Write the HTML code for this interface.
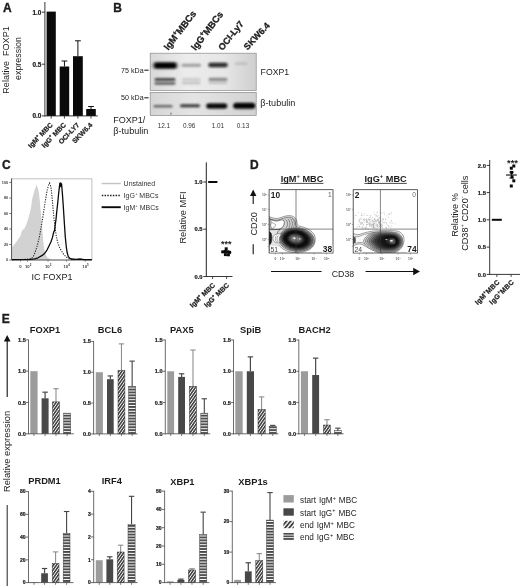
<!DOCTYPE html>
<html lang="en"><head><meta charset="utf-8"><title>Figure</title>
<style>html,body{margin:0;padding:0;background:#fff}body{width:520px;height:586px;overflow:hidden}svg{display:block;font-family:"Liberation Sans",Arial,sans-serif}</style></head>
<body>
<svg width="520" height="586" viewBox="0 0 520 586">
<rect width="520" height="586" fill="#fff"/>
<defs>
<pattern id="hd" width="2.4" height="2.4" patternUnits="userSpaceOnUse" patternTransform="rotate(-55)">
<rect width="2.4" height="2.4" fill="#fff"/><rect width="2.4" height="1.5" fill="#3a3a3a"/></pattern>
<pattern id="hh" width="2.9" height="2.9" patternUnits="userSpaceOnUse">
<rect width="2.9" height="2.9" fill="#fff"/><rect width="2.9" height="1.85" fill="#464646"/></pattern>
<pattern id="hd2" width="3.2" height="3.2" patternUnits="userSpaceOnUse" patternTransform="rotate(-50)">
<rect width="3.2" height="3.2" fill="#fff"/><rect width="3.2" height="1.8" fill="#3c3c3c"/></pattern>
<pattern id="hh2" width="2.6" height="2.6" patternUnits="userSpaceOnUse" patternTransform="translate(0 532.9)">
<rect width="2.6" height="2.6" fill="#fff"/><rect width="2.6" height="1.7" fill="#4a4a4a"/></pattern>
<filter id="b1" x="-20%" y="-100%" width="140%" height="300%"><feGaussianBlur stdDeviation="1.1 0.9"/></filter>
<filter id="b2" x="-20%" y="-100%" width="140%" height="300%"><feGaussianBlur stdDeviation="1.6 1.2"/></filter>
<filter id="b3" x="-30%" y="-30%" width="160%" height="160%"><feGaussianBlur stdDeviation="0.7"/></filter>
<filter id="b4" x="-30%" y="-30%" width="160%" height="160%"><feGaussianBlur stdDeviation="0.35"/></filter>
<clipPath id="cb1"><rect x="150.2" y="53.2" width="106" height="37.4"/></clipPath>
<clipPath id="cb2"><rect x="150.2" y="92.4" width="106" height="23"/></clipPath>
<clipPath id="cd1"><rect x="269.1" y="189.7" width="63.9" height="63.3"/></clipPath>
<clipPath id="cd2"><rect x="353.2" y="189.7" width="64.2" height="63.3"/></clipPath>
</defs>
<text x="3.1" y="11.9" font-size="12" font-weight="700" text-anchor="start" fill="#1c1c1c" stroke="#1c1c1c" stroke-width="0.35">A</text>
<text x="9.4" y="60" font-size="9.05" text-anchor="middle" fill="#1c1c1c" transform="rotate(-90 9.4 60)">Relative  FOXP1</text>
<text x="21.2" y="58.5" font-size="8.9" text-anchor="middle" fill="#1c1c1c" transform="rotate(-90 21.2 58.5)">expression</text>
<line x1="44.9" y1="2" x2="44.9" y2="116.2" stroke="#222" stroke-width="0.9"/>
<line x1="44.5" y1="115.9" x2="97.8" y2="115.9" stroke="#222" stroke-width="0.9"/>
<line x1="41.9" y1="12.2" x2="44.9" y2="12.2" stroke="#222" stroke-width="0.9"/>
<text x="41.3" y="14.5" font-size="6.4" font-weight="700" text-anchor="end" fill="#1c1c1c" stroke="#1c1c1c" stroke-width="0.22">1.0</text>
<line x1="41.9" y1="64.2" x2="44.9" y2="64.2" stroke="#222" stroke-width="0.9"/>
<text x="41.3" y="66.5" font-size="6.4" font-weight="700" text-anchor="end" fill="#1c1c1c" stroke="#1c1c1c" stroke-width="0.22">0.5</text>
<line x1="41.9" y1="115.9" x2="44.9" y2="115.9" stroke="#222" stroke-width="0.9"/>
<text x="41.3" y="118.2" font-size="6.4" font-weight="700" text-anchor="end" fill="#1c1c1c" stroke="#1c1c1c" stroke-width="0.22">0.0</text>
<rect x="46.60" y="11.60" width="9.20" height="104.30" fill="#0a0a0a"/>
<line x1="51.2" y1="115.9" x2="51.2" y2="118.6" stroke="#222" stroke-width="0.8"/>
<rect x="59.70" y="66.50" width="9.50" height="49.40" fill="#0a0a0a"/>
<line x1="64.45" y1="115.9" x2="64.45" y2="118.6" stroke="#222" stroke-width="0.8"/>
<line x1="64.45" y1="66.5" x2="64.45" y2="61" stroke="#111" stroke-width="1.0"/>
<line x1="61.55" y1="61" x2="67.35" y2="61" stroke="#111" stroke-width="1.0"/>
<rect x="73.00" y="56.20" width="9.80" height="59.70" fill="#0a0a0a"/>
<line x1="77.9" y1="115.9" x2="77.9" y2="118.6" stroke="#222" stroke-width="0.8"/>
<line x1="77.9" y1="56.2" x2="77.9" y2="40.8" stroke="#111" stroke-width="1.0"/>
<line x1="75.0" y1="40.8" x2="80.8" y2="40.8" stroke="#111" stroke-width="1.0"/>
<rect x="86.20" y="109.00" width="9.60" height="6.90" fill="#0a0a0a"/>
<line x1="91.0" y1="115.9" x2="91.0" y2="118.6" stroke="#222" stroke-width="0.8"/>
<line x1="91.0" y1="109" x2="91.0" y2="106.5" stroke="#111" stroke-width="1.0"/>
<line x1="88.1" y1="106.5" x2="93.9" y2="106.5" stroke="#111" stroke-width="1.0"/>
<text x="53.2" y="125.4" font-size="6.9" font-weight="700" text-anchor="end" fill="#1c1c1c" transform="rotate(-46 53.2 125.4)" stroke="#1c1c1c" stroke-width="0.22">IgM<tspan dy="-0.677em" font-size="62%">+</tspan><tspan dy="0.420em"> MBC</tspan></text>
<text x="66.4" y="125.4" font-size="6.9" font-weight="700" text-anchor="end" fill="#1c1c1c" transform="rotate(-46 66.4 125.4)" stroke="#1c1c1c" stroke-width="0.22">IgG<tspan dy="-0.677em" font-size="62%">+</tspan><tspan dy="0.420em"> MBC</tspan></text>
<text x="79.9" y="125.4" font-size="6.9" font-weight="700" text-anchor="end" fill="#1c1c1c" transform="rotate(-46 79.9 125.4)" stroke="#1c1c1c" stroke-width="0.22">OCI-LY7</text>
<text x="92.9" y="125.4" font-size="6.9" font-weight="700" text-anchor="end" fill="#1c1c1c" transform="rotate(-46 92.9 125.4)" stroke="#1c1c1c" stroke-width="0.22">SKW6.4</text>
<text x="113.2" y="11.9" font-size="12" font-weight="700" text-anchor="start" fill="#1c1c1c" stroke="#1c1c1c" stroke-width="0.35">B</text>
<text x="168.3" y="50.8" font-size="9.4" font-weight="700" text-anchor="start" fill="#1c1c1c" transform="rotate(-52.5 168.3 50.8)" stroke="#1c1c1c" stroke-width="0.3">IgM<tspan dy="-0.543em" font-size="70%">+</tspan><tspan dy="0.380em">MBCs</tspan></text>
<text x="195.6" y="51.1" font-size="9.4" font-weight="700" text-anchor="start" fill="#1c1c1c" transform="rotate(-52.5 195.6 51.1)" stroke="#1c1c1c" stroke-width="0.3">IgG<tspan dy="-0.543em" font-size="70%">+</tspan><tspan dy="0.380em">MBCs</tspan></text>
<text x="222.5" y="50.9" font-size="9.1" font-weight="700" text-anchor="start" fill="#1c1c1c" transform="rotate(-51 222.5 50.9)" stroke="#1c1c1c" stroke-width="0.3">OCI-Ly7</text>
<text x="247.6" y="50.5" font-size="9.0" font-weight="700" text-anchor="start" fill="#1c1c1c" transform="rotate(-47 247.6 50.5)" stroke="#1c1c1c" stroke-width="0.3">SKW6.4</text>
<linearGradient id="gb1" x1="0" x2="1" y1="0" y2="0"><stop offset="0" stop-color="#d9d9d9"/><stop offset="0.35" stop-color="#ececec"/><stop offset="0.7" stop-color="#e6e6e6"/><stop offset="1" stop-color="#cfcfcf"/></linearGradient>
<linearGradient id="gb2" x1="0" x2="1" y1="0" y2="0"><stop offset="0" stop-color="#d6d6d6"/><stop offset="0.4" stop-color="#e4e4e4"/><stop offset="1" stop-color="#d2d2d2"/></linearGradient>
<rect x="150.20" y="53.20" width="106.00" height="37.40" fill="url(#gb1)" stroke="#8a8a8a" stroke-width="0.7"/>
<rect x="150.20" y="92.40" width="106.00" height="23.00" fill="url(#gb2)" stroke="#8a8a8a" stroke-width="0.7"/>
<g clip-path="url(#cb1)">
<rect x="152.5" y="61.65" width="25.50" height="7.5" rx="3.75" fill="#000" opacity="0.5" filter="url(#b2)"/>
<rect x="154.5" y="62.90" width="21.50" height="5.0" rx="2.50" fill="#000" opacity="1" filter="url(#b1)"/>
<rect x="154.5" y="78.10" width="21.00" height="3.0" rx="1.50" fill="#222" opacity="0.78" filter="url(#b1)"/>
<rect x="154.5" y="81.90" width="21.00" height="2.8" rx="1.40" fill="#222" opacity="0.66" filter="url(#b1)"/>
<rect x="181.5" y="63.80" width="19.50" height="3.0" rx="1.50" fill="#333" opacity="0.42" filter="url(#b1)"/>
<rect x="182" y="78.20" width="18.50" height="2.4" rx="1.20" fill="#333" opacity="0.2" filter="url(#b1)"/>
<rect x="182" y="81.80" width="18.50" height="2.4" rx="1.20" fill="#333" opacity="0.22" filter="url(#b1)"/>
<rect x="208.5" y="63.10" width="19.00" height="3.8" rx="1.90" fill="#111" opacity="0.8" filter="url(#b1)"/>
<rect x="208" y="62.00" width="20.00" height="6.0" rx="3.00" fill="#111" opacity="0.22" filter="url(#b2)"/>
<rect x="208.5" y="77.80" width="19.00" height="3.2" rx="1.60" fill="#333" opacity="0.5" filter="url(#b1)"/>
<rect x="208.5" y="81.70" width="18.50" height="2.2" rx="1.10" fill="#333" opacity="0.22" filter="url(#b1)"/>
<rect x="234.5" y="62.30" width="13.00" height="2.6" rx="1.30" fill="#555" opacity="0.2" filter="url(#b1)"/>
</g>
<g clip-path="url(#cb2)">
<rect x="153.5" y="105.00" width="19.00" height="2.4" rx="1.20" fill="#222" opacity="0.62" filter="url(#b1)"/>
<rect x="180" y="104.30" width="20.00" height="3.0" rx="1.50" fill="#111" opacity="0.8" filter="url(#b1)"/>
<rect x="206.5" y="103.80" width="20.50" height="4.4" rx="2.20" fill="#000" opacity="0.95" filter="url(#b1)"/>
<rect x="206" y="102.75" width="21.50" height="6.5" rx="3.25" fill="#000" opacity="0.3" filter="url(#b2)"/>
<rect x="233.5" y="103.30" width="21.50" height="5.0" rx="2.50" fill="#000" opacity="1" filter="url(#b1)"/>
<rect x="233" y="102.20" width="22.50" height="7.2" rx="3.60" fill="#000" opacity="0.35" filter="url(#b2)"/>
</g>
<line x1="171" y1="112.6" x2="171" y2="114.6" stroke="#333" stroke-width="0.7"/>
<text x="143.6" y="72.5" font-size="7.1" text-anchor="end" fill="#222">75 kDa</text>
<line x1="144.3" y1="70.2" x2="148.6" y2="70.2" stroke="#222" stroke-width="1.1"/>
<text x="143.6" y="100.3" font-size="7.1" text-anchor="end" fill="#222">50 kDa</text>
<line x1="144.3" y1="97.8" x2="148.6" y2="97.8" stroke="#222" stroke-width="1.1"/>
<text x="260.6" y="75" font-size="8.7" text-anchor="start" fill="#1c1c1c">FOXP1</text>
<text x="260.3" y="106.2" font-size="9.1" text-anchor="start" fill="#1c1c1c">β-tubulin</text>
<text x="113.3" y="123.2" font-size="9.0" text-anchor="start" fill="#1c1c1c">FOXP1/</text>
<text x="113.3" y="134" font-size="9.1" text-anchor="start" fill="#1c1c1c">β-tubulin</text>
<text x="163.9" y="128" font-size="6.4" text-anchor="middle" fill="#333">12.1</text>
<text x="189.2" y="128" font-size="6.4" text-anchor="middle" fill="#333">0.96</text>
<text x="217.9" y="128" font-size="6.4" text-anchor="middle" fill="#333">1.01</text>
<text x="243.0" y="128" font-size="6.4" text-anchor="middle" fill="#333">0.13</text>
<text x="2.0" y="169.1" font-size="12" font-weight="700" text-anchor="start" fill="#1c1c1c" stroke="#1c1c1c" stroke-width="0.35">C</text>
<path d="M12.2,260 L12.2,247 L13.5,245.5 L15,243.5 L17,241 L19.2,237.5 L20.5,236 L21.5,231.5 L23,229.8 L24.5,228.4 L26,225 L27.5,221 L28.8,216.5 L30,212.5 L31.2,206 L32.4,198 L33.4,194.5 L34.4,190.5 L35.4,188 L36.6,184.2 L37.4,187.5 L38.2,189 L38.9,193 L39.7,200 L40.5,209 L41.4,218 L42.4,231 L43.4,243 L44.4,250 L45.6,254.4 L47.2,257.2 L49.2,258.8 L52,260 Z" fill="#d2d2d2"/>
<path d="M11.6,178.8 H91.9 V260.0" fill="none" stroke="#b0b0b0" stroke-width="0.8"/>
<path d="M11.6,178.4 V260.0 H91.9" fill="none" stroke="#3a3a3a" stroke-width="0.9"/>
<path d="M12,259.6 L26,259.4 L31.5,258.6 L33.7,255.8 L36.2,249 L37.8,243.5 L39.4,237 L41.4,226 L43.6,212 L45.2,202 L47.0,191 L48.2,186 L49.5,183.1 L50.4,185 L51.2,189 L52.2,198.8 L53.5,213 L55.0,227.7 L56.4,237 L57.9,243 L59.7,247.8 L61.7,251.2 L64,254.8 L67.3,257.8 L70,259.2 L74,259.7" fill="none" stroke="#222" stroke-width="1.1" stroke-dasharray="1.2 1.3"/>
<path d="M12,259.6 L30,259.4 L34.6,258.8 L38,257.8 L42.3,255.4 L45,253 L47.1,249.8 L49,246 L51,241.8 L52.5,237.4 L53.6,232.4 L54.6,230.4 L55.2,225 L56.0,219.5 L56.7,212.3 L57.7,203 L58.7,193 L59.4,187 L59.9,183.2 L60.3,186.5 L60.7,182.8 L61.1,186 L61.6,184 L62,189 L62.5,195 L63.4,208 L64.4,223.8 L65.3,237 L66.3,247 L67.2,252.8 L68.3,256.6 L70,258.4 L72.1,259 L76,259.4 L80,259 L84,259.6 L91.9,259.6" fill="none" stroke="#0a0a0a" stroke-width="1.3" stroke-linejoin="round"/>
<line x1="9.2" y1="182.5" x2="11.6" y2="182.5" stroke="#444" stroke-width="0.7"/>
<text x="8.2" y="183.85" font-size="3.8" font-weight="700" text-anchor="end" fill="#3a3a3a">100</text>
<line x1="9.2" y1="198.0" x2="11.6" y2="198.0" stroke="#444" stroke-width="0.7"/>
<text x="8.2" y="199.35" font-size="3.8" font-weight="700" text-anchor="end" fill="#3a3a3a">80</text>
<line x1="9.2" y1="213.5" x2="11.6" y2="213.5" stroke="#444" stroke-width="0.7"/>
<text x="8.2" y="214.85" font-size="3.8" font-weight="700" text-anchor="end" fill="#3a3a3a">60</text>
<line x1="9.2" y1="229.0" x2="11.6" y2="229.0" stroke="#444" stroke-width="0.7"/>
<text x="8.2" y="230.35" font-size="3.8" font-weight="700" text-anchor="end" fill="#3a3a3a">40</text>
<line x1="9.2" y1="244.5" x2="11.6" y2="244.5" stroke="#444" stroke-width="0.7"/>
<text x="8.2" y="245.85" font-size="3.8" font-weight="700" text-anchor="end" fill="#3a3a3a">20</text>
<line x1="9.2" y1="260.0" x2="11.6" y2="260.0" stroke="#444" stroke-width="0.7"/>
<text x="8.2" y="261.35" font-size="3.8" font-weight="700" text-anchor="end" fill="#3a3a3a">0</text>
<text x="20.3" y="267.7" font-size="4.2" font-weight="700" text-anchor="middle" fill="#3a3a3a">0</text>
<text x="28.2" y="267.7" font-size="4.2" font-weight="700" text-anchor="middle" fill="#3a3a3a">10<tspan dy="-0.643em" font-size="70%">2</tspan></text>
<text x="48.2" y="267.7" font-size="4.2" font-weight="700" text-anchor="middle" fill="#3a3a3a">10<tspan dy="-0.643em" font-size="70%">3</tspan></text>
<text x="66.7" y="267.7" font-size="4.2" font-weight="700" text-anchor="middle" fill="#3a3a3a">10<tspan dy="-0.643em" font-size="70%">4</tspan></text>
<text x="85.5" y="267.7" font-size="4.2" font-weight="700" text-anchor="middle" fill="#3a3a3a">10<tspan dy="-0.643em" font-size="70%">5</tspan></text>
<line x1="20.6" y1="260.0" x2="20.6" y2="261.8" stroke="#555" stroke-width="0.6"/>
<line x1="27.5" y1="260.0" x2="27.5" y2="261.8" stroke="#555" stroke-width="0.6"/>
<line x1="48" y1="260.0" x2="48" y2="261.8" stroke="#555" stroke-width="0.6"/>
<line x1="66.5" y1="260.0" x2="66.5" y2="261.8" stroke="#555" stroke-width="0.6"/>
<line x1="85.3" y1="260.0" x2="85.3" y2="261.8" stroke="#555" stroke-width="0.6"/>
<text x="52.0" y="280.2" font-size="9.0" text-anchor="middle" fill="#1c1c1c">IC FOXP1</text>
<line x1="101.6" y1="183.5" x2="120.8" y2="183.5" stroke="#c4c4c4" stroke-width="1.5"/>
<line x1="101.8" y1="195.6" x2="120.8" y2="195.6" stroke="#222" stroke-width="1.5" stroke-dasharray="1.5 1.25"/>
<line x1="101.6" y1="207.2" x2="120.8" y2="207.2" stroke="#0a0a0a" stroke-width="1.9"/>
<text x="123.6" y="186.0" font-size="7.0" text-anchor="start" fill="#333">Unstained</text>
<text x="123.6" y="197.9" font-size="7.0" text-anchor="start" fill="#333">IgG<tspan dy="-0.677em" font-size="62%">+</tspan><tspan dy="0.420em"> MBCs</tspan></text>
<text x="123.6" y="210.1" font-size="7.0" text-anchor="start" fill="#333">IgM<tspan dy="-0.677em" font-size="62%">+</tspan><tspan dy="0.420em"> MBCs</tspan></text>
<line x1="206.3" y1="162.4" x2="206.3" y2="276.8" stroke="#222" stroke-width="1.0"/>
<line x1="205.9" y1="276.5" x2="232.5" y2="276.5" stroke="#222" stroke-width="0.9"/>
<line x1="203.3" y1="182" x2="206.3" y2="182" stroke="#222" stroke-width="0.9"/>
<text x="202.5" y="184.1" font-size="5.8" font-weight="700" text-anchor="end" fill="#1c1c1c" stroke="#1c1c1c" stroke-width="0.22">1.0</text>
<line x1="203.3" y1="229.2" x2="206.3" y2="229.2" stroke="#222" stroke-width="0.9"/>
<text x="202.5" y="231.3" font-size="5.8" font-weight="700" text-anchor="end" fill="#1c1c1c" stroke="#1c1c1c" stroke-width="0.22">0.5</text>
<line x1="203.3" y1="276.5" x2="206.3" y2="276.5" stroke="#222" stroke-width="0.9"/>
<text x="202.5" y="278.6" font-size="5.8" font-weight="700" text-anchor="end" fill="#1c1c1c" stroke="#1c1c1c" stroke-width="0.22">0.0</text>
<line x1="212.6" y1="276.5" x2="212.6" y2="279" stroke="#222" stroke-width="0.8"/>
<line x1="226.6" y1="276.5" x2="226.6" y2="279" stroke="#222" stroke-width="0.8"/>
<line x1="208.2" y1="182" x2="217.4" y2="182" stroke="#0a0a0a" stroke-width="2.0"/>
<rect x="221.30" y="250.30" width="3.00" height="3.00" fill="#0a0a0a"/>
<rect x="223.90" y="249.90" width="3.00" height="3.00" fill="#0a0a0a"/>
<rect x="226.50" y="250.30" width="3.00" height="3.00" fill="#0a0a0a"/>
<rect x="228.10" y="250.90" width="3.00" height="3.00" fill="#0a0a0a"/>
<rect x="223.90" y="253.10" width="3.00" height="3.00" fill="#0a0a0a"/>
<rect x="226.90" y="253.30" width="3.00" height="3.00" fill="#0a0a0a"/>
<rect x="224.70" y="247.30" width="3.00" height="3.00" fill="#0a0a0a"/>
<line x1="221.4" y1="252.4" x2="231.2" y2="252.4" stroke="#0a0a0a" stroke-width="1.0"/>
<text x="226.2" y="247.0" font-size="9" font-weight="700" text-anchor="middle" fill="#1c1c1c">***</text>
<text x="186.0" y="217.5" font-size="9.3" text-anchor="middle" fill="#1c1c1c" transform="rotate(-90 186.0 217.5)">Relative MFI</text>
<text x="215.6" y="285.8" font-size="6.9" font-weight="700" text-anchor="end" fill="#1c1c1c" transform="rotate(-44 215.6 285.8)" stroke="#1c1c1c" stroke-width="0.22">IgM<tspan dy="-0.677em" font-size="62%">+</tspan><tspan dy="0.420em"> MBC</tspan></text>
<text x="229.6" y="285.8" font-size="6.9" font-weight="700" text-anchor="end" fill="#1c1c1c" transform="rotate(-44 229.6 285.8)" stroke="#1c1c1c" stroke-width="0.22">IgG<tspan dy="-0.677em" font-size="62%">+</tspan><tspan dy="0.420em"> MBC</tspan></text>
<text x="250.0" y="169.1" font-size="12" font-weight="700" text-anchor="start" fill="#1c1c1c" stroke="#1c1c1c" stroke-width="0.35">D</text>
<text x="257.0" y="223.8" font-size="9.2" text-anchor="middle" fill="#1c1c1c" transform="rotate(-90 257.0 223.8)">CD20</text>
<line x1="253.2" y1="204" x2="253.2" y2="195" stroke="#111" stroke-width="1.1"/>
<path d="M253.2,189.4 L250.0,196 L256.4,196 Z" fill="#111"/>
<line x1="253.2" y1="244.2" x2="253.2" y2="254.2" stroke="#111" stroke-width="1.1"/>
<line x1="271" y1="271.5" x2="321.6" y2="271.5" stroke="#111" stroke-width="1.2"/>
<text x="343" y="276.8" font-size="8.8" text-anchor="middle" fill="#1c1c1c">CD38</text>
<line x1="365.6" y1="271.5" x2="414" y2="271.5" stroke="#111" stroke-width="1.2"/>
<path d="M420,271.5 L413.2,267.8 L413.2,275.2 Z" fill="#111"/>
<text x="302" y="181.7" font-size="9.2" font-weight="700" text-anchor="middle" fill="#1c1c1c">IgM<tspan dy="-0.677em" font-size="62%">+</tspan><tspan dy="0.420em"> MBC</tspan></text>
<line x1="280.6" y1="183.4" x2="323.4" y2="183.4" stroke="#1c1c1c" stroke-width="0.8"/>
<line x1="267.6" y1="195.2" x2="269.1" y2="195.2" stroke="#777" stroke-width="0.5"/>
<line x1="267.6" y1="209.4" x2="269.1" y2="209.4" stroke="#777" stroke-width="0.5"/>
<line x1="267.6" y1="224.4" x2="269.1" y2="224.4" stroke="#777" stroke-width="0.5"/>
<line x1="267.6" y1="239.6" x2="269.1" y2="239.6" stroke="#777" stroke-width="0.5"/>
<line x1="267.6" y1="246.4" x2="269.1" y2="246.4" stroke="#777" stroke-width="0.5"/>
<text x="266.9" y="196.4" font-size="3.3" font-weight="700" text-anchor="end" fill="#666">10<tspan dy="-0.643em" font-size="70%">5</tspan></text>
<text x="266.9" y="210.6" font-size="3.3" font-weight="700" text-anchor="end" fill="#666">10<tspan dy="-0.643em" font-size="70%">4</tspan></text>
<text x="266.9" y="225.6" font-size="3.3" font-weight="700" text-anchor="end" fill="#666">10<tspan dy="-0.643em" font-size="70%">3</tspan></text>
<text x="266.9" y="240.8" font-size="3.3" font-weight="700" text-anchor="end" fill="#666">10<tspan dy="-0.643em" font-size="70%">2</tspan></text>
<line x1="275.3" y1="253.0" x2="275.3" y2="254.5" stroke="#777" stroke-width="0.5"/>
<text x="275.3" y="260.4" font-size="3.3" font-weight="700" text-anchor="middle" fill="#666">0</text>
<line x1="282.3" y1="253.0" x2="282.3" y2="254.5" stroke="#777" stroke-width="0.5"/>
<text x="282.3" y="260.4" font-size="3.3" font-weight="700" text-anchor="middle" fill="#666">10<tspan dy="-0.643em" font-size="70%">2</tspan></text>
<line x1="297.7" y1="253.0" x2="297.7" y2="254.5" stroke="#777" stroke-width="0.5"/>
<text x="297.7" y="260.4" font-size="3.3" font-weight="700" text-anchor="middle" fill="#666">10<tspan dy="-0.643em" font-size="70%">3</tspan></text>
<line x1="314.0" y1="253.0" x2="314.0" y2="254.5" stroke="#777" stroke-width="0.5"/>
<text x="314.0" y="260.4" font-size="3.3" font-weight="700" text-anchor="middle" fill="#666">10<tspan dy="-0.643em" font-size="70%">4</tspan></text>
<line x1="326.5" y1="253.0" x2="326.5" y2="254.5" stroke="#777" stroke-width="0.5"/>
<text x="326.5" y="260.4" font-size="3.3" font-weight="700" text-anchor="middle" fill="#666">10<tspan dy="-0.643em" font-size="70%">5</tspan></text>
<g clip-path="url(#cd1)">
<path d="M269,216.6 C272,217.6 275,219 278,218.4 C282,217.4 285,215.6 289,215.6 C294,215.6 296.8,218.6 297,222.6 C297.2,224.6 297.6,225.8 299.6,226.2 C306,227.4 312,230.4 314.4,235 C316.6,240 314.6,246 309.6,249.6 C304,252.6 296,253 290,252 C285,250.8 281.6,248.6 279.4,245.6 C278,247.6 276,249.4 273,250.2 L269,250.4 Z" fill="#e4e4e4" stroke="#555" stroke-width="0.55" opacity="1" stroke-linejoin="round"/>
<path d="M269,218.4 C272,219.4 275,220.6 278,220 C282,219 285,217.2 289,217.2 C293,217.2 295.2,219.6 295.4,223 C295.6,225.6 296.4,227 298.6,227.6 C305,229 310.6,231.6 312.8,235.6 C315,240 313,245.2 308.6,248.4 C303.4,251.2 296,251.6 290.6,250.6 C285.6,249.4 282,247 280,243.4 C278.4,241.4 277,238 277,235 C277,232.6 278,230.8 280,229.4 L269,229.8 Z" fill="#d2d2d2" stroke="#444" stroke-width="0.55" opacity="1" stroke-linejoin="round"/>
<path d="M270.4,219.2 C273,220.6 276,221.6 279,220.6 C281,219.8 283,219.4 284,220.8 C285,222.6 284,226 281.6,228 C279,229.8 275,230 272.4,229 C270.6,227.8 270.2,225.4 271,223.4 C271.4,222.2 271,220.4 270.4,219.2 Z" fill="#fff" stroke="#333" stroke-width="0.6" opacity="1" stroke-linejoin="round"/>
<path d="M272,222.6 C273.4,223.4 274.6,223.6 275.6,224.6 C276,226 274.6,227.6 272.8,227.4" fill="none" stroke="#555" stroke-width="0.5" opacity="1" stroke-linejoin="round"/>
<path d="M285.6,219.4 C288,221.4 288.4,225.4 285.8,228.2" fill="none" stroke="#444" stroke-width="0.55" opacity="1" stroke-linejoin="round"/>
<path d="M287.8,218.8 C290.4,221.2 290.8,225.6 288.2,228.6" fill="none" stroke="#444" stroke-width="0.55" opacity="1" stroke-linejoin="round"/>
<path d="M290.2,218.4 C292.8,221 293.2,225.6 290.8,228.8" fill="none" stroke="#444" stroke-width="0.55" opacity="1" stroke-linejoin="round"/>
<path d="M292.6,218.6 C294.6,221 295,225 293.4,228" fill="none" stroke="#555" stroke-width="0.5" opacity="1" stroke-linejoin="round"/>
<ellipse cx="296.8" cy="239.6" rx="17.8" ry="11.6" transform="rotate(8 296.8 239.6)" fill="#a0a0a0" stroke="#444" stroke-width="0.5" opacity="1"/>
<ellipse cx="296.65" cy="239.5" rx="16.39" ry="10.68" transform="rotate(8 296.65 239.5)" fill="#747474" stroke="#3a3a3a" stroke-width="0.5" opacity="1"/>
<ellipse cx="296.5" cy="239.4" rx="14.97" ry="9.76" transform="rotate(8 296.5 239.4)" fill="#4a4a4a" stroke="#2c2c2c" stroke-width="0.5" opacity="1"/>
<ellipse cx="296.35" cy="239.3" rx="13.56" ry="8.84" transform="rotate(8 296.35 239.3)" fill="#262626" stroke="#181818" stroke-width="0.5" opacity="1"/>
<ellipse cx="296.2" cy="239.2" rx="12.15" ry="7.92" transform="rotate(8 296.2 239.2)" fill="#141414" stroke="#0a0a0a" stroke-width="0.5" opacity="1"/>
<ellipse cx="296.05" cy="239.1" rx="10.74" ry="7.0" transform="rotate(8 296.05 239.1)" fill="#101010" stroke="#080808" stroke-width="0.5" opacity="1"/>
<ellipse cx="295.9" cy="239.0" rx="9.32" ry="6.08" transform="rotate(8 295.9 239.0)" fill="#1a1a1a" stroke="#0c0c0c" stroke-width="0.5" opacity="1"/>
<ellipse cx="295.75" cy="238.9" rx="7.91" ry="5.16" transform="rotate(8 295.75 238.9)" fill="#3a3a3a" stroke="#1c1c1c" stroke-width="0.5" opacity="1"/>
<ellipse cx="295.6" cy="238.8" rx="6.5" ry="4.23" transform="rotate(8 295.6 238.8)" fill="#5c5c5c" stroke="#333" stroke-width="0.5" opacity="1"/>
<ellipse cx="295.45" cy="238.7" rx="5.09" ry="3.31" transform="rotate(8 295.45 238.7)" fill="#787878" stroke="#444" stroke-width="0.5" opacity="1"/>
<ellipse cx="295.3" cy="238.6" rx="3.67" ry="2.39" transform="rotate(8 295.3 238.6)" fill="#8c8c8c" stroke="#555" stroke-width="0.5" opacity="1"/>
<ellipse cx="295.15" cy="238.5" rx="2.26" ry="1.47" transform="rotate(8 295.15 238.5)" fill="#a0a0a0" stroke="#666" stroke-width="0.5" opacity="1"/>
<ellipse cx="294.6" cy="238.2" rx="1.6" ry="0.9" transform="rotate(8 294.6 238.2)" fill="#fff" stroke="#777" stroke-width="0.3" opacity="1"/>
<ellipse cx="299.8" cy="238.9" rx="1.0" ry="0.6" transform="rotate(8 299.8 238.9)" fill="#ddd" stroke="none" stroke-width="0" opacity="1"/>
<path d="M269,231.6 C271.2,232.4 271.9,234 271.8,238 C271.8,242 271.2,244.2 269,245.0 Z" fill="#1c1c1c" stroke="#111" stroke-width="0.4" opacity="1" stroke-linejoin="round"/>
<path d="M273.4,236 C275.6,233.6 279,233.2 281.4,234.6 C279.4,236.4 278.6,239.6 280,242.6 C277.4,243.4 274.8,242.4 273.4,240.6 C272.8,239 272.8,237.4 273.4,236 Z" fill="#fff" stroke="#444" stroke-width="0.5" opacity="1" stroke-linejoin="round"/>
<path d="M278.6,235.4 C276.6,237 276.4,240 278.2,242" fill="none" stroke="#444" stroke-width="0.5" opacity="1" stroke-linejoin="round"/>
<path d="M276.6,235.6 C274.8,237.2 274.8,239.8 276.4,241.6" fill="none" stroke="#555" stroke-width="0.5" opacity="1" stroke-linejoin="round"/>
</g>
<line x1="296.0" y1="189.7" x2="296.0" y2="253.0" stroke="#333" stroke-width="0.6"/>
<line x1="269.1" y1="229.1" x2="333.0" y2="229.1" stroke="#333" stroke-width="0.6"/>
<rect x="269.10" y="189.70" width="63.90" height="63.30" fill="none" stroke="#333" stroke-width="0.8"/>
<text x="270.8" y="197.7" font-size="8.4" font-weight="700" text-anchor="start" fill="#1c1c1c">10</text>
<text x="331.6" y="196.6" font-size="6.6" text-anchor="end" fill="#666">1</text>
<rect x="270.00" y="246.20" width="9.40" height="6.20" fill="#fff"/>
<text x="270.6" y="252.1" font-size="6.8" text-anchor="start" fill="#444">51</text>
<rect x="322.00" y="245.40" width="10.40" height="7.00" fill="#fff"/>
<text x="332.2" y="252.3" font-size="8.4" font-weight="700" text-anchor="end" fill="#1c1c1c">38</text>
<text x="385.6" y="181.7" font-size="9.2" font-weight="700" text-anchor="middle" fill="#1c1c1c">IgG<tspan dy="-0.677em" font-size="62%">+</tspan><tspan dy="0.420em"> MBC</tspan></text>
<line x1="364.4" y1="183.4" x2="406.8" y2="183.4" stroke="#1c1c1c" stroke-width="0.8"/>
<line x1="351.7" y1="195.2" x2="353.2" y2="195.2" stroke="#777" stroke-width="0.5"/>
<line x1="351.7" y1="209.4" x2="353.2" y2="209.4" stroke="#777" stroke-width="0.5"/>
<line x1="351.7" y1="224.4" x2="353.2" y2="224.4" stroke="#777" stroke-width="0.5"/>
<line x1="351.7" y1="239.6" x2="353.2" y2="239.6" stroke="#777" stroke-width="0.5"/>
<line x1="351.7" y1="246.4" x2="353.2" y2="246.4" stroke="#777" stroke-width="0.5"/>
<text x="351.0" y="196.4" font-size="3.3" font-weight="700" text-anchor="end" fill="#666">10<tspan dy="-0.643em" font-size="70%">5</tspan></text>
<text x="351.0" y="210.6" font-size="3.3" font-weight="700" text-anchor="end" fill="#666">10<tspan dy="-0.643em" font-size="70%">4</tspan></text>
<text x="351.0" y="225.6" font-size="3.3" font-weight="700" text-anchor="end" fill="#666">10<tspan dy="-0.643em" font-size="70%">3</tspan></text>
<text x="351.0" y="240.8" font-size="3.3" font-weight="700" text-anchor="end" fill="#666">10<tspan dy="-0.643em" font-size="70%">2</tspan></text>
<line x1="359.4" y1="253.0" x2="359.4" y2="254.5" stroke="#777" stroke-width="0.5"/>
<text x="359.4" y="260.4" font-size="3.3" font-weight="700" text-anchor="middle" fill="#666">0</text>
<line x1="366.4" y1="253.0" x2="366.4" y2="254.5" stroke="#777" stroke-width="0.5"/>
<text x="366.4" y="260.4" font-size="3.3" font-weight="700" text-anchor="middle" fill="#666">10<tspan dy="-0.643em" font-size="70%">2</tspan></text>
<line x1="381.8" y1="253.0" x2="381.8" y2="254.5" stroke="#777" stroke-width="0.5"/>
<text x="381.8" y="260.4" font-size="3.3" font-weight="700" text-anchor="middle" fill="#666">10<tspan dy="-0.643em" font-size="70%">3</tspan></text>
<line x1="398.1" y1="253.0" x2="398.1" y2="254.5" stroke="#777" stroke-width="0.5"/>
<text x="398.1" y="260.4" font-size="3.3" font-weight="700" text-anchor="middle" fill="#666">10<tspan dy="-0.643em" font-size="70%">4</tspan></text>
<line x1="410.6" y1="253.0" x2="410.6" y2="254.5" stroke="#777" stroke-width="0.5"/>
<text x="410.6" y="260.4" font-size="3.3" font-weight="700" text-anchor="middle" fill="#666">10<tspan dy="-0.643em" font-size="70%">5</tspan></text>
<g clip-path="url(#cd2)">
<path d="M362.9,225.4h.8M378.5,222.2h.8M362.2,223.8h.8M374.8,228.0h.8M363.0,219.3h.8M376.4,225.7h.8M382.2,227.5h.8M370.8,223.0h.8M389.5,223.0h.8M366.0,219.9h.8M372.2,224.5h.8M369.1,223.8h.8M373.4,226.5h.8M379.2,224.8h.8M359.0,226.5h.8M361.6,223.4h.8M361.2,224.0h.8M366.1,224.8h.8M394.6,223.8h.8M377.4,219.2h.8M369.5,226.4h.8M370.9,225.3h.8M372.2,220.4h.8M375.4,221.1h.8M384.6,222.2h.8M376.3,224.0h.8M378.2,221.8h.8M378.5,223.6h.8M380.3,226.2h.8M372.5,221.2h.8M376.9,225.7h.8M383.0,222.6h.8M375.4,225.8h.8M373.5,224.8h.8M372.8,221.8h.8M364.4,222.6h.8M375.6,229.4h.8M378.3,227.8h.8M376.9,226.5h.8M372.8,226.8h.8M383.9,222.8h.8M373.2,227.5h.8M377.6,219.9h.8M372.7,226.7h.8M372.4,220.8h.8M370.7,225.3h.8M379.3,226.6h.8M371.9,228.9h.8M366.2,226.9h.8M379.3,222.9h.8M359.0,220.7h.8M373.2,225.9h.8M382.3,220.4h.8M371.5,226.3h.8M370.4,215.5h.8M378.5,220.7h.8M368.6,224.8h.8M388.9,226.2h.8M366.7,222.3h.8M376.5,229.1h.8M376.1,225.1h.8M358.7,221.4h.8M367.2,222.1h.8M375.6,222.8h.8M377.0,224.3h.8M369.2,224.4h.8M374.5,227.1h.8M368.2,223.2h.8M381.7,223.4h.8M368.2,219.6h.8M372.7,224.7h.8M386.8,224.9h.8M366.1,215.2h.8M381.4,224.7h.8M360.2,224.6h.8M379.3,226.1h.8M370.3,216.3h.8M370.6,218.4h.8M375.7,216.3h.8M365.1,228.4h.8M383.0,219.7h.8M360.8,227.2h.8M377.5,220.4h.8M366.6,221.5h.8M363.2,221.6h.8M380.3,226.5h.8M385.9,223.7h.8M370.6,220.5h.8M370.6,219.3h.8M359.1,226.5h.8M381.6,227.0h.8M380.8,224.9h.8M366.5,224.3h.8M368.9,220.0h.8M359.7,218.7h.8M371.5,224.5h.8M368.2,229.1h.8M372.8,226.1h.8M380.0,221.0h.8M357.7,226.7h.8M366.7,228.7h.8M373.9,227.6h.8M376.8,216.5h.8M376.5,221.6h.8M366.2,222.4h.8M376.9,227.2h.8M378.6,218.0h.8M367.4,215.4h.8M370.8,226.2h.8M366.2,224.9h.8M373.1,227.6h.8M365.8,221.0h.8M379.1,223.6h.8M373.1,224.4h.8M372.9,223.2h.8M369.2,219.5h.8M375.3,224.2h.8M370.0,224.2h.8M374.0,221.7h.8M372.9,224.9h.8M366.3,221.2h.8M364.5,220.2h.8M377.7,215.5h.8M369.6,221.8h.8M367.2,224.4h.8M379.4,224.3h.8M370.5,221.8h.8M370.6,227.3h.8M368.7,219.9h.8M362.7,220.0h.8M361.8,228.0h.8M374.0,223.1h.8M381.7,221.6h.8M376.8,226.9h.8M360.7,218.4h.8M365.0,227.3h.8M380.6,219.6h.8M378.8,222.6h.8M368.7,222.0h.8M369.2,217.5h.8M364.5,219.6h.8M390.6,222.8h.8M359.5,222.5h.8M375.5,221.4h.8M378.1,225.9h.8M360.1,222.1h.8M369.8,224.1h.8M372.4,222.8h.8M372.8,221.9h.8M365.2,229.5h.8M374.0,225.6h.8M360.3,223.4h.8M377.2,219.4h.8M379.2,222.6h.8M374.3,223.5h.8M373.0,228.3h.8M366.0,220.6h.8M376.5,220.2h.8M365.8,218.5h.8M386.1,227.3h.8M361.9,226.5h.8M390.8,220.9h.8M375.8,215.4h.8M374.4,220.6h.8M377.0,212.5h.8M390.8,220.8h.8M369.2,225.6h.8M375.4,220.3h.8M380.3,213.1h.8M374.5,219.0h.8M390.4,227.7h.8M364.2,220.0h.8M358.8,219.4h.8M385.0,227.3h.8M372.1,217.4h.8M361.3,222.5h.8M389.2,214.2h.8M383.6,212.4h.8M361.4,215.9h.8M380.1,217.5h.8M367.5,222.5h.8M358.0,224.4h.8M358.7,220.7h.8M363.5,215.4h.8M374.2,219.4h.8M368.3,219.0h.8M374.1,214.7h.8M361.8,222.7h.8M378.3,221.0h.8M386.3,222.4h.8M386.6,216.0h.8M382.1,225.8h.8M388.3,217.4h.8M366.0,227.7h.8M362.3,229.0h.8M387.7,214.3h.8M363.1,224.4h.8M363.9,213.6h.8M385.6,219.2h.8M384.0,214.1h.8M369.3,223.6h.8M354.7,215.4h.8M379.9,227.5h.8M390.8,214.0h.8M373.2,224.9h.8M373.1,223.7h.8M361.2,213.2h.8M358.0,212.6h.8M375.0,220.8h.8M375.6,214.5h.8M361.0,215.5h.8M385.9,228.8h.8M389.2,213.6h.8M356.4,228.2h.8M371.6,225.0h.8M366.4,219.9h.8M373.6,219.3h.8M376.8,212.2h.8M380.6,226.4h.8M360.9,219.7h.8M382.1,218.9h.8M361.4,214.8h.8M373.5,212.3h.8M387.9,225.6h.8M380.8,226.6h.8M377.9,218.9h.8M376.8,220.6h.8M391.3,225.7h.8M363.8,227.5h.8M382.3,225.2h.8M385.0,218.9h.8M388.1,227.0h.8M380.4,225.0h.8M383.1,218.9h.8M381.5,213.2h.8M367.0,220.0h.8M354.4,218.0h.8M378.3,222.6h.8M362.8,228.1h.8M379.3,217.7h.8M379.1,221.7h.8M374.3,218.6h.8M392.0,222.9h.8M380.6,224.9h.8M391.2,212.4h.8M377.4,224.6h.8M363.8,218.8h.8M355.9,215.3h.8" stroke="#8c8c8c" stroke-width="0.8" fill="none" opacity="0.6"/>
<path d="M353,233.6 C355.6,234 357,235 359,234.6 C363,233.2 367,232 372,231.2 C378,230.4 390,230.2 397,231 C402,232 404.4,236 404,241 C403.6,246 400,251.4 394,252.9 C388,253.6 382,253.4 377,252 C371,249.4 366,246.6 362,244.4 C359.6,243.4 357,244 355.4,245 L353,245.8 Z" fill="#efefef" stroke="#555" stroke-width="0.55" opacity="1" stroke-linejoin="round"/>
<path d="M355.4,236.4 C357,237 358.6,236.6 360.6,235.8 C364,234.4 368,233.2 373,232.6 C379,231.8 390,231.6 396,232.4 C400.6,233.4 402.6,236.8 402.4,241 C402,245.4 399,250.2 394,251.8 C388,252.6 382,252.4 377.6,250.8 C372,248 367,245.4 363,243 C360.6,242 358,242.4 355.6,243.4 C355,241.4 355,238.6 355.4,236.4 Z" fill="#f8f8f8" stroke="#555" stroke-width="0.5" opacity="1" stroke-linejoin="round"/>
<path d="M353,236 C355,236.8 355.6,238.6 355.4,240.4 C355.4,242 354.8,243.4 353,244 Z" fill="#555" stroke="#333" stroke-width="0.4" opacity="1" stroke-linejoin="round"/>
<path d="M363.4,241.2 C365.8,234.1 372.1,231.7 383.1,231.7 C396.9,231.7 402.8,234.5 402.8,241.8 C402.8,249.1 396.9,252.5 385.1,252.5 C375.2,252.5 366.6,249.1 363.4,241.2 Z" fill="#dcdcdc" stroke="#444" stroke-width="0.5" opacity="1" stroke-linejoin="round"/>
<path d="M365.3,241.2 C367.5,234.5 373.4,232.25 383.7,232.25 C396.6,232.25 402.18,234.9 402.18,241.8 C402.18,248.6 396.6,251.8 385.6,251.8 C376.4,251.8 368.3,248.6 365.3,241.2 Z" fill="#c4c4c4" stroke="#444" stroke-width="0.5" opacity="1" stroke-linejoin="round"/>
<path d="M367.2,241.2 C369.3,234.9 374.8,232.8 384.4,232.8 C396.4,232.8 401.56,235.3 401.56,241.8 C401.56,248.1 396.4,251.1 386.1,251.1 C377.5,251.1 369.9,248.1 367.2,241.2 Z" fill="#a8a8a8" stroke="#3c3c3c" stroke-width="0.5" opacity="1" stroke-linejoin="round"/>
<path d="M369.1,241.2 C371.0,235.3 376.1,233.35 385.0,233.35 C396.2,233.35 400.94,235.7 400.94,241.8 C400.94,247.6 396.2,250.4 386.6,250.4 C378.7,250.4 371.6,247.6 369.1,241.2 Z" fill="#8a8a8a" stroke="#333" stroke-width="0.5" opacity="1" stroke-linejoin="round"/>
<path d="M371.0,241.2 C372.8,235.7 377.5,233.9 385.7,233.9 C395.9,233.9 400.32,236.1 400.32,241.8 C400.32,247.1 395.9,249.7 387.1,249.7 C379.8,249.7 373.3,247.1 371.0,241.2 Z" fill="#6c6c6c" stroke="#2c2c2c" stroke-width="0.5" opacity="1" stroke-linejoin="round"/>
<path d="M372.9,241.2 C374.5,236.1 378.8,234.45 386.3,234.45 C395.7,234.45 399.7,236.5 399.7,241.8 C399.7,246.7 395.7,249.0 387.6,249.0 C380.9,249.0 375.0,246.7 372.9,241.2 Z" fill="#505050" stroke="#262626" stroke-width="0.5" opacity="1" stroke-linejoin="round"/>
<path d="M374.8,241.2 C376.3,236.6 380.1,235.0 386.9,235.0 C395.4,235.0 399.08,236.9 399.08,241.8 C399.08,246.2 395.4,248.3 388.2,248.3 C382.1,248.3 376.7,246.2 374.8,241.2 Z" fill="#3a3a3a" stroke="#202020" stroke-width="0.5" opacity="1" stroke-linejoin="round"/>
<path d="M377.2,241.2 C378.5,237.0 381.9,235.55 387.8,235.55 C395.3,235.55 398.46,237.2 398.46,241.8 C398.46,245.7 395.3,247.6 388.9,247.6 C383.6,247.6 378.9,245.7 377.2,241.2 Z" fill="#282828" stroke="#181818" stroke-width="0.5" opacity="1" stroke-linejoin="round"/>
<path d="M379.6,241.2 C380.7,237.4 383.6,236.1 388.7,236.1 C395.1,236.1 397.84,237.6 397.84,241.8 C397.84,245.2 395.1,246.9 389.6,246.9 C385.1,246.9 381.1,245.2 379.6,241.2 Z" fill="#1e1e1e" stroke="#111" stroke-width="0.5" opacity="1" stroke-linejoin="round"/>
<path d="M382.0,241.2 C382.9,237.8 385.3,236.65 389.6,236.65 C394.9,236.65 397.22,238.0 397.22,241.8 C397.22,244.7 394.9,246.2 390.4,246.2 C386.6,246.2 383.2,244.7 382.0,241.2 Z" fill="#181818" stroke="#0a0a0a" stroke-width="0.5" opacity="1" stroke-linejoin="round"/>
<path d="M384.4,241.2 C385.1,238.2 387.1,237.2 390.5,237.2 C394.8,237.2 396.6,238.4 396.6,241.8 C396.6,244.2 394.8,245.5 391.1,245.5 C388.1,245.5 385.4,244.2 384.4,241.2 Z" fill="#1c1c1c" stroke="#0a0a0a" stroke-width="0.5" opacity="1" stroke-linejoin="round"/>
<path d="M386.8,241.2 C387.4,238.6 388.8,237.75 391.4,237.75 C394.6,237.75 395.98,238.8 395.98,241.8 C395.98,243.7 394.6,244.8 391.8,244.8 C389.6,244.8 387.5,243.7 386.8,241.2 Z" fill="#303030" stroke="#111" stroke-width="0.5" opacity="1" stroke-linejoin="round"/>
<path d="M389.2,241.2 C389.6,239.0 390.6,238.3 392.3,238.3 C394.4,238.3 395.36,239.2 395.36,241.8 C395.36,243.2 394.4,244.1 392.6,244.1 C391.0,244.1 389.7,243.2 389.2,241.2 Z" fill="#585858" stroke="#222" stroke-width="0.5" opacity="1" stroke-linejoin="round"/>
<ellipse cx="391.4" cy="240.8" rx="1.7" ry="0.9" transform="rotate(0 391.4 240.8)" fill="#fff" stroke="#666" stroke-width="0.3" opacity="1"/>
<ellipse cx="386.4" cy="239.6" rx="1.1" ry="0.6" transform="rotate(0 386.4 239.6)" fill="#bbb" stroke="none" stroke-width="0" opacity="1"/>
</g>
<line x1="380.4" y1="189.7" x2="380.4" y2="253.0" stroke="#333" stroke-width="0.6"/>
<line x1="353.2" y1="229.1" x2="417.4" y2="229.1" stroke="#333" stroke-width="0.6"/>
<rect x="353.20" y="189.70" width="64.20" height="63.30" fill="none" stroke="#333" stroke-width="0.8"/>
<text x="354.8" y="197.7" font-size="8.4" font-weight="700" text-anchor="start" fill="#1c1c1c">2</text>
<text x="416" y="196.6" font-size="6.6" text-anchor="end" fill="#666">0</text>
<rect x="354.00" y="246.60" width="8.60" height="5.80" fill="#fff"/>
<text x="354.6" y="252.1" font-size="6.8" text-anchor="start" fill="#444">24</text>
<rect x="406.40" y="245.40" width="10.40" height="7.00" fill="#fff"/>
<text x="416.6" y="252.3" font-size="8.4" font-weight="700" text-anchor="end" fill="#1c1c1c">74</text>
<line x1="489.7" y1="160" x2="489.7" y2="274.8" stroke="#222" stroke-width="0.9"/>
<line x1="489.3" y1="274.4" x2="520" y2="274.4" stroke="#222" stroke-width="0.9"/>
<line x1="486.7" y1="165.4" x2="489.7" y2="165.4" stroke="#222" stroke-width="0.9"/>
<text x="485.9" y="167.5" font-size="5.8" font-weight="700" text-anchor="end" fill="#1c1c1c" stroke="#1c1c1c" stroke-width="0.22">2.0</text>
<line x1="486.7" y1="192.6" x2="489.7" y2="192.6" stroke="#222" stroke-width="0.9"/>
<text x="485.9" y="194.7" font-size="5.8" font-weight="700" text-anchor="end" fill="#1c1c1c" stroke="#1c1c1c" stroke-width="0.22">1.5</text>
<line x1="486.7" y1="219.8" x2="489.7" y2="219.8" stroke="#222" stroke-width="0.9"/>
<text x="485.9" y="221.9" font-size="5.8" font-weight="700" text-anchor="end" fill="#1c1c1c" stroke="#1c1c1c" stroke-width="0.22">1.0</text>
<line x1="486.7" y1="247.1" x2="489.7" y2="247.1" stroke="#222" stroke-width="0.9"/>
<text x="485.9" y="249.2" font-size="5.8" font-weight="700" text-anchor="end" fill="#1c1c1c" stroke="#1c1c1c" stroke-width="0.22">0.5</text>
<line x1="486.7" y1="274.4" x2="489.7" y2="274.4" stroke="#222" stroke-width="0.9"/>
<text x="485.9" y="276.5" font-size="5.8" font-weight="700" text-anchor="end" fill="#1c1c1c" stroke="#1c1c1c" stroke-width="0.22">0.0</text>
<line x1="496.9" y1="274.4" x2="496.9" y2="277" stroke="#222" stroke-width="0.8"/>
<line x1="511.1" y1="274.4" x2="511.1" y2="277" stroke="#222" stroke-width="0.8"/>
<line x1="491.8" y1="219.8" x2="501.8" y2="219.8" stroke="#0a0a0a" stroke-width="2.0"/>
<rect x="512.30" y="164.50" width="3.00" height="3.00" fill="#0a0a0a"/>
<rect x="509.80" y="166.70" width="3.00" height="3.00" fill="#0a0a0a"/>
<rect x="510.10" y="170.90" width="3.00" height="3.00" fill="#0a0a0a"/>
<rect x="510.50" y="175.50" width="3.00" height="3.00" fill="#0a0a0a"/>
<rect x="512.30" y="179.30" width="3.00" height="3.00" fill="#0a0a0a"/>
<rect x="509.80" y="184.50" width="3.00" height="3.00" fill="#0a0a0a"/>
<line x1="506" y1="175" x2="516.8" y2="175" stroke="#0a0a0a" stroke-width="1.1"/>
<line x1="511.6" y1="172.1" x2="511.6" y2="178" stroke="#0a0a0a" stroke-width="0.9"/>
<line x1="509.3" y1="172.1" x2="513.9" y2="172.1" stroke="#0a0a0a" stroke-width="0.9"/>
<line x1="509.3" y1="178" x2="513.9" y2="178" stroke="#0a0a0a" stroke-width="0.9"/>
<text x="512.5" y="166.1" font-size="9.4" font-weight="700" text-anchor="middle" fill="#1c1c1c">***</text>
<text x="457.7" y="215" font-size="9.15" text-anchor="middle" fill="#1c1c1c" transform="rotate(-90 457.7 215)">Relative %</text>
<text x="468.0" y="213.2" font-size="9.15" text-anchor="middle" fill="#1c1c1c" transform="rotate(-90 468.0 213.2)">CD38<tspan dy="-0.677em" font-size="62%">+</tspan><tspan dy="0.420em"> CD20</tspan><tspan dy="-0.677em" font-size="62%">-</tspan><tspan dy="0.420em"> cells</tspan></text>
<text x="500.3" y="282.6" font-size="6.9" font-weight="700" text-anchor="end" fill="#1c1c1c" transform="rotate(-45 500.3 282.6)" letter-spacing="0.28" stroke="#1c1c1c" stroke-width="0.22">IgM<tspan dy="-0.677em" font-size="62%">+</tspan><tspan dy="0.420em">MBC</tspan></text>
<text x="514.5" y="282.6" font-size="6.9" font-weight="700" text-anchor="end" fill="#1c1c1c" transform="rotate(-45 514.5 282.6)" letter-spacing="0.28" stroke="#1c1c1c" stroke-width="0.22">IgG<tspan dy="-0.677em" font-size="62%">+</tspan><tspan dy="0.420em">MBC</tspan></text>
<text x="1.8" y="322.8" font-size="12" font-weight="700" text-anchor="start" fill="#1c1c1c" stroke="#1c1c1c" stroke-width="0.35">E</text>
<line x1="7.2" y1="340" x2="7.2" y2="397.1" stroke="#111" stroke-width="1.1"/>
<path d="M7.2,335 L3.9,341.4 L10.5,341.4 Z" fill="#111"/>
<text x="9.9" y="451.5" font-size="9.3" text-anchor="middle" fill="#1c1c1c" transform="rotate(-90 9.9 451.5)">Relative expression</text>
<line x1="7.2" y1="505" x2="7.2" y2="586" stroke="#222" stroke-width="1.0"/>
<text x="45" y="332.5" font-size="9.3" font-weight="700" text-anchor="middle" fill="#1c1c1c">FOXP1</text>
<rect x="30.30" y="371.20" width="7.30" height="62.60" fill="#9c9c9c"/>
<line x1="33.95" y1="433.8" x2="33.95" y2="436.0" stroke="#484848" stroke-width="0.7"/>
<line x1="45.1" y1="398.31" x2="45.1" y2="392.17" stroke="#484848" stroke-width="1.2"/>
<line x1="42.4" y1="392.17" x2="47.8" y2="392.17" stroke="#484848" stroke-width="1.2"/>
<rect x="41.60" y="398.31" width="7.00" height="35.49" fill="#484848"/>
<line x1="45.1" y1="433.8" x2="45.1" y2="436.0" stroke="#484848" stroke-width="0.7"/>
<line x1="56.0" y1="401.87" x2="56.0" y2="388.73" stroke="#8a8a8a" stroke-width="1.05"/>
<line x1="53.3" y1="388.73" x2="58.7" y2="388.73" stroke="#8a8a8a" stroke-width="1.05"/>
<rect x="52.50" y="401.87" width="7.00" height="31.93" fill="url(#hd)" stroke="#333" stroke-width="0.5"/>
<line x1="56.0" y1="433.8" x2="56.0" y2="436.0" stroke="#484848" stroke-width="0.7"/>
<rect x="63.60" y="413.14" width="7.10" height="20.66" fill="url(#hh)" stroke="#444" stroke-width="0.5"/>
<line x1="67.15" y1="433.8" x2="67.15" y2="436.0" stroke="#484848" stroke-width="0.7"/>
<line x1="28.5" y1="339.5" x2="28.5" y2="434.2" stroke="#484848" stroke-width="0.8"/>
<line x1="28.1" y1="433.8" x2="73.8" y2="433.8" stroke="#484848" stroke-width="0.8"/>
<line x1="26.1" y1="433.8" x2="28.5" y2="433.8" stroke="#484848" stroke-width="0.8"/>
<text x="25.8" y="435.82" font-size="5.6" font-weight="700" text-anchor="end" fill="#1c1c1c" stroke="#1c1c1c" stroke-width="0.22">0.0</text>
<line x1="26.1" y1="402.5" x2="28.5" y2="402.5" stroke="#484848" stroke-width="0.8"/>
<text x="25.8" y="404.52" font-size="5.6" font-weight="700" text-anchor="end" fill="#1c1c1c" stroke="#1c1c1c" stroke-width="0.22">0.5</text>
<line x1="26.1" y1="371.2" x2="28.5" y2="371.2" stroke="#484848" stroke-width="0.8"/>
<text x="25.8" y="373.22" font-size="5.6" font-weight="700" text-anchor="end" fill="#1c1c1c" stroke="#1c1c1c" stroke-width="0.22">1.0</text>
<line x1="26.1" y1="339.9" x2="28.5" y2="339.9" stroke="#484848" stroke-width="0.8"/>
<text x="25.8" y="341.92" font-size="5.6" font-weight="700" text-anchor="end" fill="#1c1c1c" stroke="#1c1c1c" stroke-width="0.22">1.5</text>
<text x="110" y="332.5" font-size="9.3" font-weight="700" text-anchor="middle" fill="#1c1c1c">BCL6</text>
<rect x="95.80" y="372.23" width="7.10" height="61.67" fill="#9c9c9c"/>
<line x1="99.35" y1="433.9" x2="99.35" y2="436.1" stroke="#484848" stroke-width="0.7"/>
<line x1="110.35" y1="379.2" x2="110.35" y2="375.93" stroke="#484848" stroke-width="1.2"/>
<line x1="107.65" y1="375.93" x2="113.05" y2="375.93" stroke="#484848" stroke-width="1.2"/>
<rect x="107.00" y="379.20" width="6.70" height="54.70" fill="#484848"/>
<line x1="110.35" y1="433.9" x2="110.35" y2="436.1" stroke="#484848" stroke-width="0.7"/>
<line x1="121.45" y1="370.38" x2="121.45" y2="343.87" stroke="#8a8a8a" stroke-width="1.05"/>
<line x1="118.75" y1="343.87" x2="124.15" y2="343.87" stroke="#8a8a8a" stroke-width="1.05"/>
<rect x="118.00" y="370.38" width="6.90" height="63.52" fill="url(#hd)" stroke="#333" stroke-width="0.5"/>
<line x1="121.45" y1="433.9" x2="121.45" y2="436.1" stroke="#484848" stroke-width="0.7"/>
<line x1="132.15" y1="386.42" x2="132.15" y2="361.13" stroke="#444" stroke-width="1.1"/>
<line x1="129.45" y1="361.13" x2="134.85" y2="361.13" stroke="#444" stroke-width="1.1"/>
<rect x="128.60" y="386.42" width="7.10" height="47.48" fill="url(#hh)" stroke="#444" stroke-width="0.5"/>
<line x1="132.15" y1="433.9" x2="132.15" y2="436.1" stroke="#484848" stroke-width="0.7"/>
<line x1="93.6" y1="341.0" x2="93.6" y2="434.3" stroke="#484848" stroke-width="0.8"/>
<line x1="93.2" y1="433.9" x2="137.6" y2="433.9" stroke="#484848" stroke-width="0.8"/>
<line x1="91.2" y1="433.9" x2="93.6" y2="433.9" stroke="#484848" stroke-width="0.8"/>
<text x="90.9" y="435.92" font-size="5.6" font-weight="700" text-anchor="end" fill="#1c1c1c" stroke="#1c1c1c" stroke-width="0.22">0.0</text>
<line x1="91.2" y1="403.07" x2="93.6" y2="403.07" stroke="#484848" stroke-width="0.8"/>
<text x="90.9" y="405.08" font-size="5.6" font-weight="700" text-anchor="end" fill="#1c1c1c" stroke="#1c1c1c" stroke-width="0.22">0.5</text>
<line x1="91.2" y1="372.23" x2="93.6" y2="372.23" stroke="#484848" stroke-width="0.8"/>
<text x="90.9" y="374.25" font-size="5.6" font-weight="700" text-anchor="end" fill="#1c1c1c" stroke="#1c1c1c" stroke-width="0.22">1.0</text>
<line x1="91.2" y1="341.4" x2="93.6" y2="341.4" stroke="#484848" stroke-width="0.8"/>
<text x="90.9" y="343.42" font-size="5.6" font-weight="700" text-anchor="end" fill="#1c1c1c" stroke="#1c1c1c" stroke-width="0.22">1.5</text>
<text x="181.8" y="332.5" font-size="9.3" font-weight="700" text-anchor="middle" fill="#1c1c1c">PAX5</text>
<rect x="167.30" y="371.27" width="6.80" height="62.53" fill="#9c9c9c"/>
<line x1="170.7" y1="433.8" x2="170.7" y2="436.0" stroke="#484848" stroke-width="0.7"/>
<line x1="181.6" y1="376.89" x2="181.6" y2="373.77" stroke="#484848" stroke-width="1.2"/>
<line x1="178.9" y1="373.77" x2="184.3" y2="373.77" stroke="#484848" stroke-width="1.2"/>
<rect x="178.20" y="376.89" width="6.80" height="56.91" fill="#484848"/>
<line x1="181.6" y1="433.8" x2="181.6" y2="436.0" stroke="#484848" stroke-width="0.7"/>
<line x1="193.0" y1="386.27" x2="193.0" y2="350.01" stroke="#8a8a8a" stroke-width="1.05"/>
<line x1="190.3" y1="350.01" x2="195.7" y2="350.01" stroke="#8a8a8a" stroke-width="1.05"/>
<rect x="189.40" y="386.27" width="7.20" height="47.53" fill="url(#hd)" stroke="#333" stroke-width="0.5"/>
<line x1="193.0" y1="433.8" x2="193.0" y2="436.0" stroke="#484848" stroke-width="0.7"/>
<line x1="204.3" y1="413.16" x2="204.3" y2="398.78" stroke="#444" stroke-width="1.1"/>
<line x1="201.6" y1="398.78" x2="207.0" y2="398.78" stroke="#444" stroke-width="1.1"/>
<rect x="200.80" y="413.16" width="7.00" height="20.64" fill="url(#hh)" stroke="#444" stroke-width="0.5"/>
<line x1="204.3" y1="433.8" x2="204.3" y2="436.0" stroke="#484848" stroke-width="0.7"/>
<line x1="165.3" y1="339.6" x2="165.3" y2="434.2" stroke="#484848" stroke-width="0.8"/>
<line x1="164.9" y1="433.8" x2="210.2" y2="433.8" stroke="#484848" stroke-width="0.8"/>
<line x1="162.9" y1="433.8" x2="165.3" y2="433.8" stroke="#484848" stroke-width="0.8"/>
<text x="162.6" y="435.82" font-size="5.6" font-weight="700" text-anchor="end" fill="#1c1c1c" stroke="#1c1c1c" stroke-width="0.22">0.0</text>
<line x1="162.9" y1="402.53" x2="165.3" y2="402.53" stroke="#484848" stroke-width="0.8"/>
<text x="162.6" y="404.55" font-size="5.6" font-weight="700" text-anchor="end" fill="#1c1c1c" stroke="#1c1c1c" stroke-width="0.22">0.5</text>
<line x1="162.9" y1="371.27" x2="165.3" y2="371.27" stroke="#484848" stroke-width="0.8"/>
<text x="162.6" y="373.28" font-size="5.6" font-weight="700" text-anchor="end" fill="#1c1c1c" stroke="#1c1c1c" stroke-width="0.22">1.0</text>
<line x1="162.9" y1="340.0" x2="165.3" y2="340.0" stroke="#484848" stroke-width="0.8"/>
<text x="162.6" y="342.02" font-size="5.6" font-weight="700" text-anchor="end" fill="#1c1c1c" stroke="#1c1c1c" stroke-width="0.22">1.5</text>
<text x="250.6" y="332.5" font-size="9.3" font-weight="700" text-anchor="middle" fill="#1c1c1c">SpiB</text>
<rect x="235.30" y="371.27" width="7.40" height="62.53" fill="#9c9c9c"/>
<line x1="239.0" y1="433.8" x2="239.0" y2="436.0" stroke="#484848" stroke-width="0.7"/>
<line x1="250.4" y1="371.27" x2="250.4" y2="356.88" stroke="#484848" stroke-width="1.2"/>
<line x1="247.7" y1="356.88" x2="253.1" y2="356.88" stroke="#484848" stroke-width="1.2"/>
<rect x="246.80" y="371.27" width="7.20" height="62.53" fill="#484848"/>
<line x1="250.4" y1="433.8" x2="250.4" y2="436.0" stroke="#484848" stroke-width="0.7"/>
<line x1="261.6" y1="409.41" x2="261.6" y2="396.91" stroke="#8a8a8a" stroke-width="1.05"/>
<line x1="258.9" y1="396.91" x2="264.3" y2="396.91" stroke="#8a8a8a" stroke-width="1.05"/>
<rect x="258.00" y="409.41" width="7.20" height="24.39" fill="url(#hd)" stroke="#333" stroke-width="0.5"/>
<line x1="261.6" y1="433.8" x2="261.6" y2="436.0" stroke="#484848" stroke-width="0.7"/>
<line x1="272.75" y1="426.3" x2="272.75" y2="425.36" stroke="#444" stroke-width="1.1"/>
<line x1="270.05" y1="425.36" x2="275.45" y2="425.36" stroke="#444" stroke-width="1.1"/>
<rect x="269.20" y="426.30" width="7.10" height="7.50" fill="url(#hh)" stroke="#444" stroke-width="0.5"/>
<line x1="272.75" y1="433.8" x2="272.75" y2="436.0" stroke="#484848" stroke-width="0.7"/>
<line x1="233.5" y1="339.6" x2="233.5" y2="434.2" stroke="#484848" stroke-width="0.8"/>
<line x1="233.1" y1="433.8" x2="278.4" y2="433.8" stroke="#484848" stroke-width="0.8"/>
<line x1="231.1" y1="433.8" x2="233.5" y2="433.8" stroke="#484848" stroke-width="0.8"/>
<text x="230.8" y="435.82" font-size="5.6" font-weight="700" text-anchor="end" fill="#1c1c1c" stroke="#1c1c1c" stroke-width="0.22">0.0</text>
<line x1="231.1" y1="402.53" x2="233.5" y2="402.53" stroke="#484848" stroke-width="0.8"/>
<text x="230.8" y="404.55" font-size="5.6" font-weight="700" text-anchor="end" fill="#1c1c1c" stroke="#1c1c1c" stroke-width="0.22">0.5</text>
<line x1="231.1" y1="371.27" x2="233.5" y2="371.27" stroke="#484848" stroke-width="0.8"/>
<text x="230.8" y="373.28" font-size="5.6" font-weight="700" text-anchor="end" fill="#1c1c1c" stroke="#1c1c1c" stroke-width="0.22">1.0</text>
<line x1="231.1" y1="340.0" x2="233.5" y2="340.0" stroke="#484848" stroke-width="0.8"/>
<text x="230.8" y="342.02" font-size="5.6" font-weight="700" text-anchor="end" fill="#1c1c1c" stroke="#1c1c1c" stroke-width="0.22">1.5</text>
<text x="314.6" y="332.5" font-size="9.3" font-weight="700" text-anchor="middle" fill="#1c1c1c">BACH2</text>
<rect x="300.90" y="371.27" width="7.10" height="62.53" fill="#9c9c9c"/>
<line x1="304.45" y1="433.8" x2="304.45" y2="436.0" stroke="#484848" stroke-width="0.7"/>
<line x1="315.65" y1="375.02" x2="315.65" y2="358.13" stroke="#484848" stroke-width="1.2"/>
<line x1="312.95" y1="358.13" x2="318.35" y2="358.13" stroke="#484848" stroke-width="1.2"/>
<rect x="312.20" y="375.02" width="6.90" height="58.78" fill="#484848"/>
<line x1="315.65" y1="433.8" x2="315.65" y2="436.0" stroke="#484848" stroke-width="0.7"/>
<line x1="326.95" y1="425.05" x2="326.95" y2="419.73" stroke="#8a8a8a" stroke-width="1.05"/>
<line x1="324.25" y1="419.73" x2="329.65" y2="419.73" stroke="#8a8a8a" stroke-width="1.05"/>
<rect x="323.50" y="425.05" width="6.90" height="8.75" fill="url(#hd)" stroke="#333" stroke-width="0.5"/>
<line x1="326.95" y1="433.8" x2="326.95" y2="436.0" stroke="#484848" stroke-width="0.7"/>
<line x1="337.9" y1="430.67" x2="337.9" y2="428.17" stroke="#444" stroke-width="1.1"/>
<line x1="335.2" y1="428.17" x2="340.6" y2="428.17" stroke="#444" stroke-width="1.1"/>
<rect x="334.40" y="430.67" width="7.00" height="3.13" fill="url(#hh)" stroke="#444" stroke-width="0.5"/>
<line x1="337.9" y1="433.8" x2="337.9" y2="436.0" stroke="#484848" stroke-width="0.7"/>
<line x1="298.8" y1="339.6" x2="298.8" y2="434.2" stroke="#484848" stroke-width="0.8"/>
<line x1="298.4" y1="433.8" x2="343.6" y2="433.8" stroke="#484848" stroke-width="0.8"/>
<line x1="296.4" y1="433.8" x2="298.8" y2="433.8" stroke="#484848" stroke-width="0.8"/>
<text x="296.1" y="435.82" font-size="5.6" font-weight="700" text-anchor="end" fill="#1c1c1c" stroke="#1c1c1c" stroke-width="0.22">0.0</text>
<line x1="296.4" y1="402.53" x2="298.8" y2="402.53" stroke="#484848" stroke-width="0.8"/>
<text x="296.1" y="404.55" font-size="5.6" font-weight="700" text-anchor="end" fill="#1c1c1c" stroke="#1c1c1c" stroke-width="0.22">0.5</text>
<line x1="296.4" y1="371.27" x2="298.8" y2="371.27" stroke="#484848" stroke-width="0.8"/>
<text x="296.1" y="373.28" font-size="5.6" font-weight="700" text-anchor="end" fill="#1c1c1c" stroke="#1c1c1c" stroke-width="0.22">1.0</text>
<line x1="296.4" y1="340.0" x2="298.8" y2="340.0" stroke="#484848" stroke-width="0.8"/>
<text x="296.1" y="342.02" font-size="5.6" font-weight="700" text-anchor="end" fill="#1c1c1c" stroke="#1c1c1c" stroke-width="0.22">1.5</text>
<text x="44.5" y="484.2" font-size="9.3" font-weight="700" text-anchor="middle" fill="#1c1c1c">PRDM1</text>
<rect x="30.50" y="582.03" width="7.10" height="0.57" fill="#9c9c9c"/>
<line x1="34.05" y1="582.6" x2="34.05" y2="584.8" stroke="#484848" stroke-width="0.7"/>
<line x1="44.55" y1="573.27" x2="44.55" y2="568.5" stroke="#484848" stroke-width="1.2"/>
<line x1="41.85" y1="568.5" x2="47.25" y2="568.5" stroke="#484848" stroke-width="1.2"/>
<rect x="41.20" y="573.27" width="6.70" height="9.33" fill="#484848"/>
<line x1="44.55" y1="582.6" x2="44.55" y2="584.8" stroke="#484848" stroke-width="0.7"/>
<line x1="55.6" y1="563.38" x2="55.6" y2="551.89" stroke="#8a8a8a" stroke-width="1.05"/>
<line x1="52.9" y1="551.89" x2="58.3" y2="551.89" stroke="#8a8a8a" stroke-width="1.05"/>
<rect x="52.20" y="563.38" width="6.80" height="19.22" fill="url(#hd)" stroke="#333" stroke-width="0.5"/>
<line x1="55.6" y1="582.6" x2="55.6" y2="584.8" stroke="#484848" stroke-width="0.7"/>
<line x1="66.6" y1="533.23" x2="66.6" y2="511.51" stroke="#444" stroke-width="1.1"/>
<line x1="63.9" y1="511.51" x2="69.3" y2="511.51" stroke="#444" stroke-width="1.1"/>
<rect x="63.20" y="533.23" width="6.80" height="49.37" fill="url(#hh)" stroke="#444" stroke-width="0.5"/>
<line x1="66.6" y1="582.6" x2="66.6" y2="584.8" stroke="#484848" stroke-width="0.7"/>
<line x1="28.5" y1="491.2" x2="28.5" y2="583.0" stroke="#484848" stroke-width="0.8"/>
<line x1="28.1" y1="582.6" x2="73.5" y2="582.6" stroke="#484848" stroke-width="0.8"/>
<line x1="25.8" y1="582.6" x2="28.5" y2="582.6" stroke="#484848" stroke-width="0.8"/>
<text x="25.5" y="584.4" font-size="5.0" font-weight="700" text-anchor="end" fill="#1c1c1c" stroke="#1c1c1c" stroke-width="0.22">0</text>
<line x1="25.8" y1="559.85" x2="28.5" y2="559.85" stroke="#484848" stroke-width="0.8"/>
<text x="25.5" y="561.65" font-size="5.0" font-weight="700" text-anchor="end" fill="#1c1c1c" stroke="#1c1c1c" stroke-width="0.22">20</text>
<line x1="25.8" y1="537.1" x2="28.5" y2="537.1" stroke="#484848" stroke-width="0.8"/>
<text x="25.5" y="538.9" font-size="5.0" font-weight="700" text-anchor="end" fill="#1c1c1c" stroke="#1c1c1c" stroke-width="0.22">40</text>
<line x1="25.8" y1="514.35" x2="28.5" y2="514.35" stroke="#484848" stroke-width="0.8"/>
<text x="25.5" y="516.15" font-size="5.0" font-weight="700" text-anchor="end" fill="#1c1c1c" stroke="#1c1c1c" stroke-width="0.22">60</text>
<line x1="25.8" y1="491.6" x2="28.5" y2="491.6" stroke="#484848" stroke-width="0.8"/>
<text x="25.5" y="493.4" font-size="5.0" font-weight="700" text-anchor="end" fill="#1c1c1c" stroke="#1c1c1c" stroke-width="0.22">80</text>
<text x="111.8" y="484.2" font-size="9.3" font-weight="700" text-anchor="middle" fill="#1c1c1c">IRF4</text>
<rect x="95.80" y="560.23" width="6.90" height="22.37" fill="#9c9c9c"/>
<line x1="99.25" y1="582.6" x2="99.25" y2="584.8" stroke="#484848" stroke-width="0.7"/>
<line x1="109.8" y1="559.32" x2="109.8" y2="556.81" stroke="#484848" stroke-width="1.2"/>
<line x1="107.1" y1="556.81" x2="112.5" y2="556.81" stroke="#484848" stroke-width="1.2"/>
<rect x="106.40" y="559.32" width="6.80" height="23.28" fill="#484848"/>
<line x1="109.8" y1="582.6" x2="109.8" y2="584.8" stroke="#484848" stroke-width="0.7"/>
<line x1="120.65" y1="552.01" x2="120.65" y2="545.17" stroke="#8a8a8a" stroke-width="1.05"/>
<line x1="117.95" y1="545.17" x2="123.35" y2="545.17" stroke="#8a8a8a" stroke-width="1.05"/>
<rect x="117.20" y="552.01" width="6.90" height="30.59" fill="url(#hd)" stroke="#333" stroke-width="0.5"/>
<line x1="120.65" y1="582.6" x2="120.65" y2="584.8" stroke="#484848" stroke-width="0.7"/>
<line x1="131.55" y1="524.62" x2="131.55" y2="496.32" stroke="#444" stroke-width="1.1"/>
<line x1="128.85" y1="496.32" x2="134.25" y2="496.32" stroke="#444" stroke-width="1.1"/>
<rect x="128.00" y="524.62" width="7.10" height="57.98" fill="url(#hh)" stroke="#444" stroke-width="0.5"/>
<line x1="131.55" y1="582.6" x2="131.55" y2="584.8" stroke="#484848" stroke-width="0.7"/>
<line x1="93.7" y1="490.9" x2="93.7" y2="583.0" stroke="#484848" stroke-width="0.8"/>
<line x1="93.3" y1="582.6" x2="137.6" y2="582.6" stroke="#484848" stroke-width="0.8"/>
<line x1="91.0" y1="582.6" x2="93.7" y2="582.6" stroke="#484848" stroke-width="0.8"/>
<text x="90.7" y="584.4" font-size="5.0" font-weight="700" text-anchor="end" fill="#1c1c1c" stroke="#1c1c1c" stroke-width="0.22">0</text>
<line x1="91.0" y1="559.77" x2="93.7" y2="559.77" stroke="#484848" stroke-width="0.8"/>
<text x="90.7" y="561.57" font-size="5.0" font-weight="700" text-anchor="end" fill="#1c1c1c" stroke="#1c1c1c" stroke-width="0.22">1</text>
<line x1="91.0" y1="536.95" x2="93.7" y2="536.95" stroke="#484848" stroke-width="0.8"/>
<text x="90.7" y="538.75" font-size="5.0" font-weight="700" text-anchor="end" fill="#1c1c1c" stroke="#1c1c1c" stroke-width="0.22">2</text>
<line x1="91.0" y1="514.12" x2="93.7" y2="514.12" stroke="#484848" stroke-width="0.8"/>
<text x="90.7" y="515.92" font-size="5.0" font-weight="700" text-anchor="end" fill="#1c1c1c" stroke="#1c1c1c" stroke-width="0.22">3</text>
<line x1="91.0" y1="491.3" x2="93.7" y2="491.3" stroke="#484848" stroke-width="0.8"/>
<text x="90.7" y="493.1" font-size="5.0" font-weight="700" text-anchor="end" fill="#1c1c1c" stroke="#1c1c1c" stroke-width="0.22">4</text>
<text x="182.4" y="484.8" font-size="9.3" font-weight="700" text-anchor="middle" fill="#1c1c1c">XBP1</text>
<rect x="166.60" y="581.32" width="7.00" height="1.28" fill="#9c9c9c"/>
<line x1="170.1" y1="582.6" x2="170.1" y2="584.8" stroke="#484848" stroke-width="0.7"/>
<line x1="180.9" y1="579.86" x2="180.9" y2="579.12" stroke="#484848" stroke-width="1.2"/>
<line x1="178.2" y1="579.12" x2="183.6" y2="579.12" stroke="#484848" stroke-width="1.2"/>
<rect x="177.40" y="579.86" width="7.00" height="2.75" fill="#484848"/>
<line x1="180.9" y1="582.6" x2="180.9" y2="584.8" stroke="#484848" stroke-width="0.7"/>
<line x1="192.0" y1="569.97" x2="192.0" y2="568.69" stroke="#8a8a8a" stroke-width="1.05"/>
<line x1="189.3" y1="568.69" x2="194.7" y2="568.69" stroke="#8a8a8a" stroke-width="1.05"/>
<rect x="188.40" y="569.97" width="7.20" height="12.63" fill="url(#hd)" stroke="#333" stroke-width="0.5"/>
<line x1="192.0" y1="582.6" x2="192.0" y2="584.8" stroke="#484848" stroke-width="0.7"/>
<line x1="203.2" y1="534.65" x2="203.2" y2="512.14" stroke="#444" stroke-width="1.1"/>
<line x1="200.5" y1="512.14" x2="205.9" y2="512.14" stroke="#444" stroke-width="1.1"/>
<rect x="199.60" y="534.65" width="7.20" height="47.95" fill="url(#hh)" stroke="#444" stroke-width="0.5"/>
<line x1="203.2" y1="582.6" x2="203.2" y2="584.8" stroke="#484848" stroke-width="0.7"/>
<line x1="164.6" y1="490.7" x2="164.6" y2="583.0" stroke="#484848" stroke-width="0.8"/>
<line x1="164.2" y1="582.6" x2="209.4" y2="582.6" stroke="#484848" stroke-width="0.8"/>
<line x1="161.9" y1="582.6" x2="164.6" y2="582.6" stroke="#484848" stroke-width="0.8"/>
<text x="161.6" y="584.4" font-size="5.0" font-weight="700" text-anchor="end" fill="#1c1c1c" stroke="#1c1c1c" stroke-width="0.22">0</text>
<line x1="161.9" y1="564.3" x2="164.6" y2="564.3" stroke="#484848" stroke-width="0.8"/>
<text x="161.6" y="566.1" font-size="5.0" font-weight="700" text-anchor="end" fill="#1c1c1c" stroke="#1c1c1c" stroke-width="0.22">10</text>
<line x1="161.9" y1="546.0" x2="164.6" y2="546.0" stroke="#484848" stroke-width="0.8"/>
<text x="161.6" y="547.8" font-size="5.0" font-weight="700" text-anchor="end" fill="#1c1c1c" stroke="#1c1c1c" stroke-width="0.22">20</text>
<line x1="161.9" y1="527.7" x2="164.6" y2="527.7" stroke="#484848" stroke-width="0.8"/>
<text x="161.6" y="529.5" font-size="5.0" font-weight="700" text-anchor="end" fill="#1c1c1c" stroke="#1c1c1c" stroke-width="0.22">30</text>
<line x1="161.9" y1="509.4" x2="164.6" y2="509.4" stroke="#484848" stroke-width="0.8"/>
<text x="161.6" y="511.2" font-size="5.0" font-weight="700" text-anchor="end" fill="#1c1c1c" stroke="#1c1c1c" stroke-width="0.22">40</text>
<line x1="161.9" y1="491.1" x2="164.6" y2="491.1" stroke="#484848" stroke-width="0.8"/>
<text x="161.6" y="492.9" font-size="5.0" font-weight="700" text-anchor="end" fill="#1c1c1c" stroke="#1c1c1c" stroke-width="0.22">50</text>
<text x="253.0" y="484.8" font-size="9.3" font-weight="700" text-anchor="middle" fill="#1c1c1c">XBP1s</text>
<rect x="234.20" y="579.86" width="6.80" height="2.75" fill="#9c9c9c"/>
<line x1="237.6" y1="582.6" x2="237.6" y2="584.8" stroke="#484848" stroke-width="0.7"/>
<line x1="248.3" y1="571.32" x2="248.3" y2="562.77" stroke="#484848" stroke-width="1.2"/>
<line x1="245.6" y1="562.77" x2="251.0" y2="562.77" stroke="#484848" stroke-width="1.2"/>
<rect x="244.90" y="571.32" width="6.80" height="11.28" fill="#484848"/>
<line x1="248.3" y1="582.6" x2="248.3" y2="584.8" stroke="#484848" stroke-width="0.7"/>
<line x1="259.3" y1="560.64" x2="259.3" y2="553.62" stroke="#8a8a8a" stroke-width="1.05"/>
<line x1="256.6" y1="553.62" x2="262.0" y2="553.62" stroke="#8a8a8a" stroke-width="1.05"/>
<rect x="255.80" y="560.64" width="7.00" height="21.96" fill="url(#hd)" stroke="#333" stroke-width="0.5"/>
<line x1="259.3" y1="582.6" x2="259.3" y2="584.8" stroke="#484848" stroke-width="0.7"/>
<line x1="270.0" y1="520.08" x2="270.0" y2="492.62" stroke="#444" stroke-width="1.1"/>
<line x1="267.3" y1="492.62" x2="272.7" y2="492.62" stroke="#444" stroke-width="1.1"/>
<rect x="266.50" y="520.08" width="7.00" height="62.52" fill="url(#hh)" stroke="#444" stroke-width="0.5"/>
<line x1="270.0" y1="582.6" x2="270.0" y2="584.8" stroke="#484848" stroke-width="0.7"/>
<line x1="232.3" y1="490.7" x2="232.3" y2="583.0" stroke="#484848" stroke-width="0.8"/>
<line x1="231.9" y1="582.6" x2="276" y2="582.6" stroke="#484848" stroke-width="0.8"/>
<line x1="229.6" y1="582.6" x2="232.3" y2="582.6" stroke="#484848" stroke-width="0.8"/>
<text x="229.3" y="584.4" font-size="5.0" font-weight="700" text-anchor="end" fill="#1c1c1c" stroke="#1c1c1c" stroke-width="0.22">0</text>
<line x1="229.6" y1="552.1" x2="232.3" y2="552.1" stroke="#484848" stroke-width="0.8"/>
<text x="229.3" y="553.9" font-size="5.0" font-weight="700" text-anchor="end" fill="#1c1c1c" stroke="#1c1c1c" stroke-width="0.22">10</text>
<line x1="229.6" y1="521.6" x2="232.3" y2="521.6" stroke="#484848" stroke-width="0.8"/>
<text x="229.3" y="523.4" font-size="5.0" font-weight="700" text-anchor="end" fill="#1c1c1c" stroke="#1c1c1c" stroke-width="0.22">20</text>
<line x1="229.6" y1="491.1" x2="232.3" y2="491.1" stroke="#484848" stroke-width="0.8"/>
<text x="229.3" y="492.9" font-size="5.0" font-weight="700" text-anchor="end" fill="#1c1c1c" stroke="#1c1c1c" stroke-width="0.22">30</text>
<rect x="283.40" y="495.10" width="10.40" height="7.40" fill="#9c9c9c"/>
<rect x="283.40" y="508.30" width="10.40" height="7.40" fill="#484848"/>
<rect x="283.40" y="520.80" width="10.40" height="7.40" fill="url(#hd2)"/>
<rect x="283.40" y="532.70" width="10.40" height="7.40" fill="url(#hh2)"/>
<text x="300.1" y="502.9" font-size="8.2" text-anchor="start" fill="#222" word-spacing="0.7">start IgM<tspan dy="-0.588em" font-size="68%">+</tspan><tspan dy="0.400em"> MBC</tspan></text>
<text x="300.1" y="515.6" font-size="8.2" text-anchor="start" fill="#222" word-spacing="0.7">start IgG<tspan dy="-0.588em" font-size="68%">+</tspan><tspan dy="0.400em"> MBC</tspan></text>
<text x="300.1" y="528.1" font-size="8.2" text-anchor="start" fill="#222" word-spacing="0.7">end IgM<tspan dy="-0.588em" font-size="68%">+</tspan><tspan dy="0.400em"> MBC</tspan></text>
<text x="300.1" y="539.9" font-size="8.2" text-anchor="start" fill="#222" word-spacing="0.7">end IgG<tspan dy="-0.588em" font-size="68%">+</tspan><tspan dy="0.400em"> MBC</tspan></text>
</svg>
</body></html>
